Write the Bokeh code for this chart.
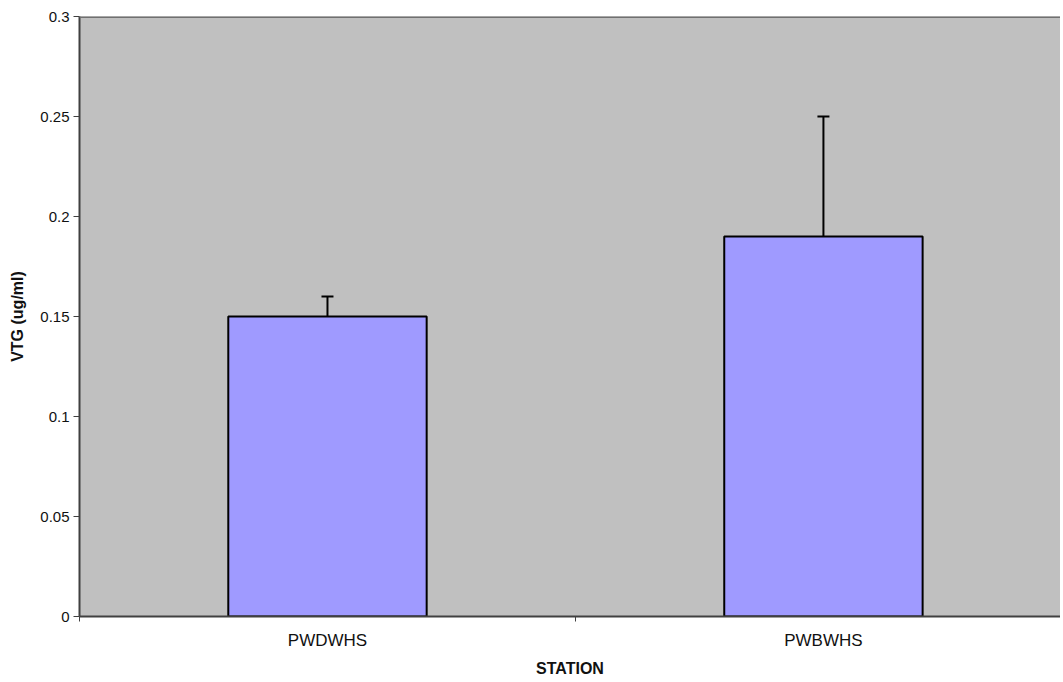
from bokeh.plotting import figure
from bokeh.models import ColumnDataSource, FixedTicker, Whisker, TeeHead, Span
from bokeh.embed import file_html
from bokeh.resources import INLINE

stations = ["PWDWHS", "PWBWHS"]
vtg = [0.15, 0.19]
err_upper = [0.16, 0.25]
y_ticks = [0, 0.05, 0.1, 0.15, 0.2, 0.25, 0.3]
y_tick_labels = ["0", "0.05", "0.1", "0.15", "0.2", "0.25", "0.3"]

xpos = [i + 0.5 for i in range(len(stations))]
src = ColumnDataSource(dict(x=xpos, top=vtg, upper=err_upper, name=stations))

FONT = "Liberation Sans"
p = figure(width=1060, height=680, output_backend="svg", toolbar_location=None,
           x_range=(0, 1.978), y_range=(0, 0.3),
           min_border_left=79, min_border_top=16, min_border_bottom=64, min_border_right=0)
p.background_fill_color = "#C0C0C0"
p.border_fill_color = "white"
p.outline_line_color = None
p.grid.grid_line_color = None

p.vbar(x="x", top="top", bottom=0, width=0.4, source=src,
       fill_color="#9F9AFF", line_color="black", line_width=2)

w = Whisker(base="x", lower="top", upper="upper", source=src,
            line_color="black", line_width=2,
            upper_head=TeeHead(size=12, line_color="black", line_width=2),
            lower_head=None)
p.add_layout(w)

p.add_layout(Span(location=y_ticks[-1], dimension="width", line_color="#707070", line_width=3))

# y axis
ya = p.yaxis[0]
ya.ticker = FixedTicker(ticks=y_ticks)
ya.major_label_overrides = {t: l for t, l in zip(y_ticks, y_tick_labels)}
ya.axis_label = "VTG (ug/ml)"
ya.axis_label_text_font = FONT
ya.axis_label_text_font_style = "bold"
ya.axis_label_text_font_size = "16px"
ya.axis_label_text_color = "#111111"
ya.axis_label_standoff = 11
ya.major_label_text_font = FONT
ya.major_label_text_font_size = "15px"
ya.major_label_text_color = "#111111"
ya.axis_line_color = "#404040"
ya.axis_line_width = 2
ya.major_tick_line_color = "#404040"
ya.major_tick_out = 6
ya.major_tick_in = 0
ya.minor_tick_line_color = None
ya.major_label_standoff = 4

# x axis
xa = p.xaxis[0]
xa.ticker = FixedTicker(ticks=xpos, minor_ticks=[0, 1, 2])
xa.major_label_overrides = {x: s for x, s in zip(xpos, stations)}
xa.axis_label = "STATION"
xa.axis_label_text_font = FONT
xa.axis_label_text_font_style = "bold"
xa.axis_label_text_font_size = "16px"
xa.axis_label_text_color = "#111111"
xa.axis_label_standoff = 7
xa.major_label_text_font = FONT
xa.major_label_text_font_size = "17px"
xa.major_label_text_color = "#111111"
xa.axis_line_color = "#404040"
xa.axis_line_width = 2
xa.major_tick_line_color = None
xa.major_tick_out = 0
xa.major_tick_in = 0
xa.minor_tick_line_color = "#404040"
xa.minor_tick_out = 5
xa.minor_tick_in = 0
xa.major_label_standoff = 9

open("out.html", "w").write(file_html(p, INLINE))
